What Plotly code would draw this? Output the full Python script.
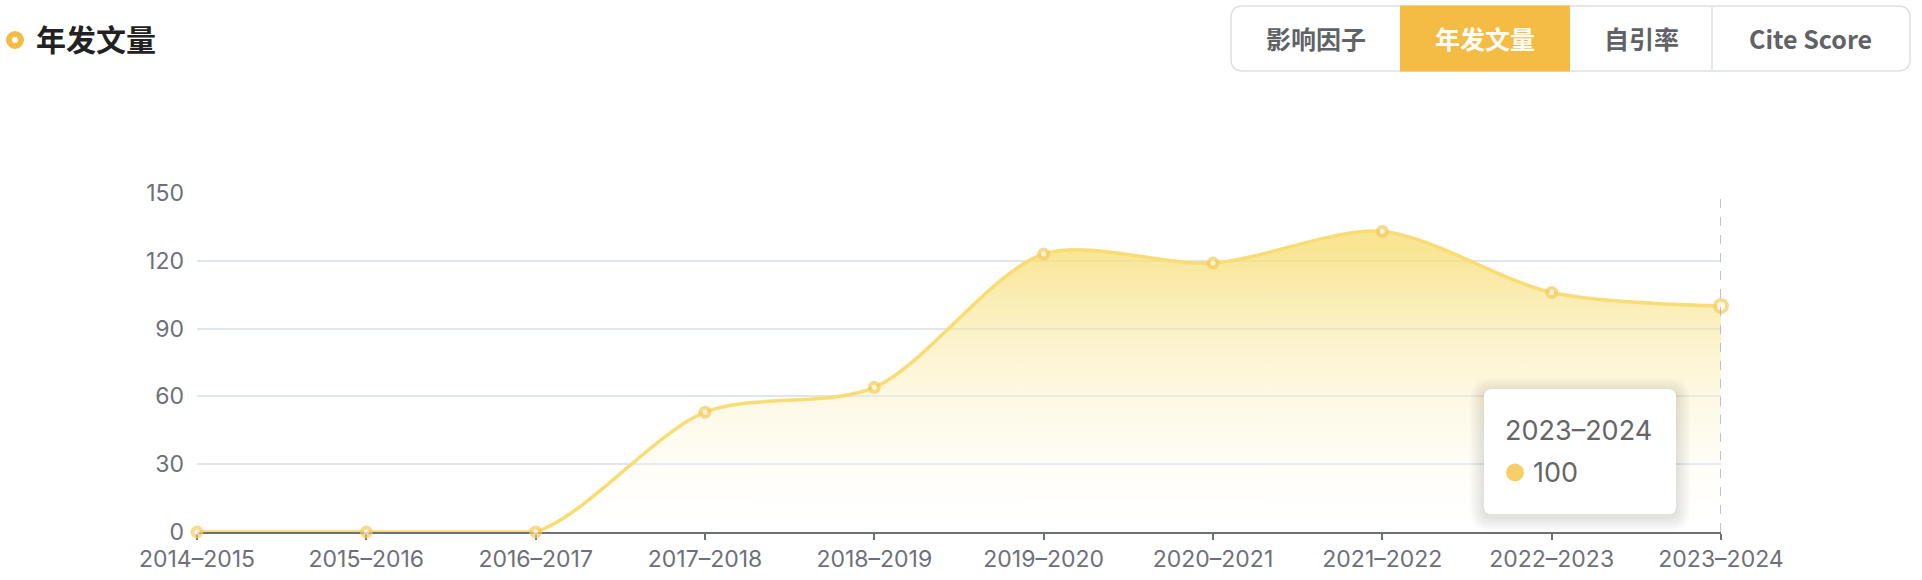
import plotly.graph_objects as go

# ---------------- data ----------------
categories = ["2014–2015", "2015–2016", "2016–2017", "2017–2018", "2018–2019",
              "2019–2020", "2020–2021", "2021–2022", "2022–2023", "2023–2024"]
article_counts = [0, 0, 0, 53, 64, 123, 119, 133, 106, 100]
y_ticks = [0, 30, 60, 90, 120, 150]
title_text = "年发文量"
button_labels = ["影响因子", "年发文量", "自引率", "Cite Score"]
active_button = "年发文量"

# ---------------- layout geometry (pixels) ----------------
W, H = 1922, 580
L, R, T, B = 197, 1721, 193, 532   # plot area edges
PW, PH = R - L, B - T


def px(x):
    return (x - L) / PW


def py(y):
    return (B - y) / PH


def rrect(x0, y0, x1, y1, r):
    """rounded rectangle path in paper coords from pixel box"""
    rx, ry = r / PW, r / PH
    a, b, c, d = px(x0), py(y1), px(x1), py(y0)  # left, bottom, right, top
    return (f"M{a+rx},{b} L{c-rx},{b} Q{c},{b} {c},{b+ry} L{c},{d-ry} Q{c},{d} {c-rx},{d} "
            f"L{a+rx},{d} Q{a},{d} {a},{d-ry} L{a},{b+ry} Q{a},{b} {a+rx},{b} Z")


LINE_COLOR = "#F9DD74"
MARKER_COLOR = "#F6CB5E"
AXIS_COLOR = "#6E7079"
GRID_COLOR = "#E0E6F1"
ORANGE = "#F4BC44"
FONT_NUM = "Inter, Noto Sans, sans-serif"
tick_font = dict(family=FONT_NUM, size=23, color=AXIS_COLOR)

n = len(categories)
marker_sizes = [9] * (n - 1) + [12]

# leading run of zero values (drawn straight so the spline does not dip under the axis)
lead = 0
while lead < n and article_counts[lead] == 0:
    lead += 1

fig = go.Figure()
fig.add_trace(go.Scatter(
    x=categories, y=article_counts,
    mode="lines",
    line=dict(color=LINE_COLOR, width=3.5, shape="spline", smoothing=0.85),
    fill="tozeroy",
    fillgradient=dict(type="vertical", start=0, stop=125,
                      colorscale=[[0, "rgba(255,255,255,0.1)"],
                                  [1, "rgba(247,222,118,0.78)"]]),
    hoverinfo="skip",
    showlegend=False,
))
if lead > 1:
    fig.add_trace(go.Scatter(
        x=categories[:lead], y=article_counts[:lead],
        mode="lines",
        line=dict(color=LINE_COLOR, width=3.5),
        cliponaxis=False, hoverinfo="skip", showlegend=False,
    ))
fig.add_trace(go.Scatter(
    x=categories, y=article_counts,
    mode="markers",
    marker=dict(symbol="circle", size=marker_sizes, color="white",
                line=dict(color=MARKER_COLOR, width=4)),
    cliponaxis=False,
    hoverinfo="skip",
    showlegend=False,
))

shapes = []
annotations = []

# axis pointer (dashed line at hovered category)
shapes.append(dict(type="line", xref="x", yref="paper",
                   x0=categories[-1], x1=categories[-1], y0=0, y1=1,
                   line=dict(color="#ABAFBE", width=1.5, dash="dash"), layer="above"))

# ---- tooltip ----
tx0, ty0, tx1, ty1 = 1484, 389, 1676, 514
for i in range(1, 8):
    e = i * 2
    shapes.append(dict(type="path", xref="paper", yref="paper",
                       path=rrect(tx0 - e, ty0 - e + 3, tx1 + e, ty1 + e + 3, 8 + e),
                       fillcolor="rgba(0,0,0,0.014)", line=dict(width=0), layer="above"))
shapes.append(dict(type="path", xref="paper", yref="paper",
                   path=rrect(tx0, ty0, tx1, ty1, 8),
                   fillcolor="white", line=dict(width=0), layer="above"))
shapes.append(dict(type="circle", xref="paper", yref="paper",
                   x0=px(1506), x1=px(1524), y0=py(481.5), y1=py(463.5),
                   fillcolor="#F7CF68", line=dict(width=0), layer="above"))
annotations.append(dict(xref="paper", yref="paper", x=px(1503), y=py(430),
                        xanchor="left", yanchor="middle", showarrow=False,
                        text=categories[-1],
                        font=dict(family=FONT_NUM, size=27, color="#666666")))
annotations.append(dict(xref="paper", yref="paper", x=px(1531), y=py(472),
                        xanchor="left", yanchor="middle", showarrow=False,
                        text=str(article_counts[-1]),
                        font=dict(family=FONT_NUM, size=27, color="#666666")))

# ---- title with ring icon ----
shapes.append(dict(type="circle", xref="paper", yref="paper",
                   x0=px(9), x1=px(21), y0=py(46), y1=py(34),
                   fillcolor="white", line=dict(color=ORANGE, width=6)))
annotations.append(dict(xref="paper", yref="paper", x=px(34), y=py(38),
                        xanchor="left", yanchor="middle", showarrow=False,
                        text=f"<b>{title_text}</b>",
                        font=dict(family="Noto Sans CJK SC", size=30, color="#222222")))

# ---- button group ----
btn_edges = [1231, 1400, 1570, 1712, 1910]
bx0, by0, bx1, by1 = btn_edges[0], 6, btn_edges[-1], 71
shapes.append(dict(type="path", xref="paper", yref="paper",
                   path=rrect(bx0, by0, bx1, by1, 12),
                   fillcolor="white", line=dict(color="#DCDFE6", width=1.5)))
for i, lab in enumerate(button_labels):
    x0, x1 = btn_edges[i], btn_edges[i + 1]
    is_active = lab == active_button
    if is_active:
        shapes.append(dict(type="rect", xref="paper", yref="paper",
                           x0=px(x0), x1=px(x1), y0=py(71.5), y1=py(5.5),
                           fillcolor=ORANGE, line=dict(width=0)))
    if i > 0 and not is_active and button_labels[i - 1] != active_button:
        shapes.append(dict(type="line", xref="paper", yref="paper",
                           x0=px(x0), x1=px(x0), y0=py(7), y1=py(70),
                           line=dict(color="#DCDFE6", width=1.5)))
    annotations.append(dict(xref="paper", yref="paper", x=px((x0 + x1) / 2), y=py(38),
                            xanchor="center", yanchor="middle", showarrow=False,
                            text=f"<b>{lab}</b>",
                            font=dict(family="Noto Sans CJK SC, Inter, sans-serif", size=25,
                                      color="white" if is_active else "#606266")))

fig.update_layout(
    width=W, height=H,
    margin=dict(l=L, r=W - R, t=T, b=H - B, pad=0, autoexpand=False),
    paper_bgcolor="white", plot_bgcolor="white",
    hovermode=False,
    showlegend=False,
    shapes=shapes,
    annotations=annotations,
    xaxis=dict(type="category", categoryorder="array", categoryarray=categories,
               range=[0, n - 1], showgrid=False, zeroline=False, automargin=False,
               showline=True, linecolor=AXIS_COLOR, linewidth=1.5,
               ticks="outside", ticklen=6, tickwidth=1.5, tickcolor=AXIS_COLOR,
               ticklabelstandoff=0, layer="below traces",
               tickfont=tick_font, fixedrange=True),
    yaxis=dict(range=[0, 150], tickvals=y_ticks, showgrid=True, gridcolor=GRID_COLOR,
               gridwidth=1.5, zeroline=False, showline=False, ticks="", automargin=False,
               ticklabelstandoff=12, tickfont=tick_font, fixedrange=True),
)

fig.write_html("out.html", config={"displayModeBar": False},
               post_script="document.body.style.margin='0px';document.body.style.overflow='hidden';")
